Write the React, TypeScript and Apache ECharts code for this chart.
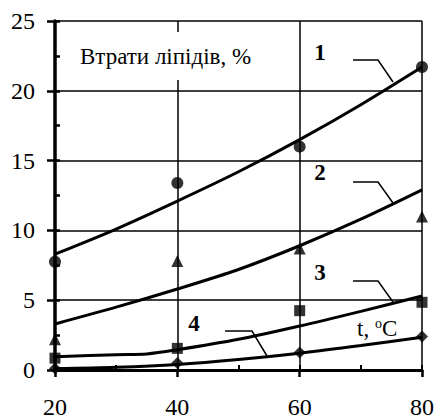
import React, { useEffect, useRef } from "react";
import * as echarts from "echarts";

// Fitted curves
const curve1X = [20, 30, 40, 50, 60, 70, 80];
const curve1Y = [8.3, 10.1, 12.1, 14.2, 16.5, 19.0, 21.7];
const curve2X = [20, 30, 40, 50, 60, 70, 80];
const curve2Y = [3.3, 4.5, 5.8, 7.2, 8.9, 10.8, 12.9];
const curve3X = [20, 30, 35, 40, 50, 60, 70, 80];
const curve3Y = [0.95, 1.1, 1.15, 1.45, 2.2, 3.15, 4.2, 5.3];
const curve4X = [20, 30, 40, 50, 60, 70, 80];
const curve4Y = [0.1, 0.2, 0.4, 0.75, 1.2, 1.75, 2.35];

// Experimental points
const pointX = [20, 40, 60, 80];
const points1 = [7.75, 13.4, 16.0, 21.7];
const points2 = [2.2, 7.8, 8.7, 11.0];
const points3 = [0.85, 1.55, 4.25, 4.85];
const points4 = [0.1, 0.5, 1.25, 2.4];

const xTicks = [20, 40, 60, 80];
const yTicks = [0, 5, 10, 15, 20, 25];

const FONT = "Liberation Serif";

const zip = (xs: number[], ys: number[]) => xs.map((x, i) => [x, ys[i]]);

export default function App() {
  const ref = useRef<HTMLDivElement>(null);
  useEffect(() => {
    if (!ref.current) return;
    const chart = echarts.init(ref.current, undefined, { renderer: "svg" });
    const curveStyle = { color: "#000", width: 3 };
    const lineSeries = (xs: number[], ys: number[]) => ({
      type: "line",
      data: zip(xs, ys),
      smooth: 0.3,
      showSymbol: false,
      symbol: "none",
      lineStyle: curveStyle,
      itemStyle: { color: "#000" },
      z: 3,
    });
    const scatterSeries = (ys: number[], symbol: string, size: number) => ({
      type: "scatter",
      data: zip(pointX, ys),
      symbol,
      symbolSize: size,
      itemStyle: { color: "#000" },
      z: 4,
    });
    const leader = (pts: number[][]) => ({
      type: "polyline",
      shape: { points: pts },
      style: { stroke: "#000", lineWidth: 1.5, fill: null },
      z: 100,
    });
    const label = (text: string, x: number, y: number) => ({
      type: "text",
      x,
      y,
      style: {
        text,
        fontFamily: FONT,
        fontSize: 23,
        fontWeight: "bold",
        fill: "#000",
        align: "center",
        verticalAlign: "middle",
      },
      z: 101,
    });
    chart.setOption({
      animation: false,
      textStyle: { fontFamily: FONT },
      grid: { left: 55, right: 12, top: 21, bottom: 47 },
      xAxis: [
        {
          type: "value",
          min: 20,
          max: 80,
          interval: 20,
          axisLine: { show: true, lineStyle: { color: "#000", width: 3 } },
          axisTick: { show: true, inside: false, length: 7, lineStyle: { color: "#000", width: 2.5 } },
          axisLabel: {
            margin: 25,
            color: "#000",
            fontFamily: FONT,
            fontSize: 24,
            formatter: (v: number) => (xTicks.includes(v) ? String(v) : ""),
          },
          splitLine: { show: true, lineStyle: { color: "#000", width: 1.5 } },
        },
        {
          type: "value",
          min: 20,
          max: 80,
          interval: 10,
          position: "bottom",
          axisLine: { show: false },
          axisTick: { show: true, inside: true, length: 5, lineStyle: { color: "#000", width: 2 } },
          axisLabel: { show: false },
          splitLine: { show: false },
        },
      ],
      yAxis: [
        {
          type: "value",
          min: 0,
          max: 25,
          interval: 5,
          axisLine: { show: true, lineStyle: { color: "#000", width: 3.5 } },
          axisTick: { show: true, inside: false, length: 8, lineStyle: { color: "#000", width: 2.5 } },
          axisLabel: {
            margin: 20,
            color: "#000",
            fontFamily: FONT,
            fontSize: 24,
            formatter: (v: number) => (yTicks.includes(v) ? String(v) : ""),
          },
          splitLine: { show: true, lineStyle: { color: "#000", width: 1.5 } },
        },
        {
          type: "value",
          min: 0,
          max: 25,
          interval: 2.5,
          position: "left",
          axisLine: { show: false },
          axisTick: { show: true, inside: true, length: 5, lineStyle: { color: "#000", width: 2.5 } },
          axisLabel: { show: false },
          splitLine: { show: false },
        },
      ],
      graphic: [
        { type: "rect", shape: { x: 62, y: 32, width: 210, height: 48 }, style: { fill: "#fff" }, z: 90 },
        {
          type: "text",
          x: 80,
          y: 56,
          style: {
            text: "Втрати ліпідів, %",
            fontFamily: FONT,
            fontSize: 23,
            fill: "#000",
            align: "left",
            verticalAlign: "middle",
          },
          z: 101,
        },
        { type: "rect", shape: { x: 312, y: 162, width: 26, height: 24 }, style: { fill: "#fff" }, z: 90 },
        label("1", 320, 52),
        label("2", 320, 172),
        label("3", 320, 272),
        label("4", 194, 323),
        leader([[353, 60], [378, 60], [393, 82]]),
        leader([[353, 182], [378, 182], [393, 203]]),
        leader([[353, 281], [378, 281], [393, 302]]),
        leader([[225, 331], [252, 331], [267, 356]]),
        {
          type: "text",
          x: 357,
          y: 328,
          style: {
            rich: {
              n: { fontFamily: FONT, fontSize: 23, fill: "#000" },
              s: { fontFamily: FONT, fontSize: 14, fill: "#000", verticalAlign: "top", padding: [0, 0, 10, 0] },
            },
            text: "{n|t, }{s|o}{n|C}",
            verticalAlign: "middle",
            align: "left",
          },
          z: 101,
        },
      ],
      series: [
        lineSeries(curve1X, curve1Y),
        lineSeries(curve2X, curve2Y),
        lineSeries(curve3X, curve3Y),
        lineSeries(curve4X, curve4Y),
        scatterSeries(points1, "circle", 12),
        scatterSeries(points2, "triangle", 12),
        scatterSeries(points3, "rect", 11),
        scatterSeries(points4, "diamond", 12),
      ],
    });
    return () => chart.dispose();
  }, []);
  return (
    <div
      ref={ref}
      style={{ position: "fixed", left: 0, top: 0, width: 437, height: 419, background: "#fff" }}
    />
  );
}
